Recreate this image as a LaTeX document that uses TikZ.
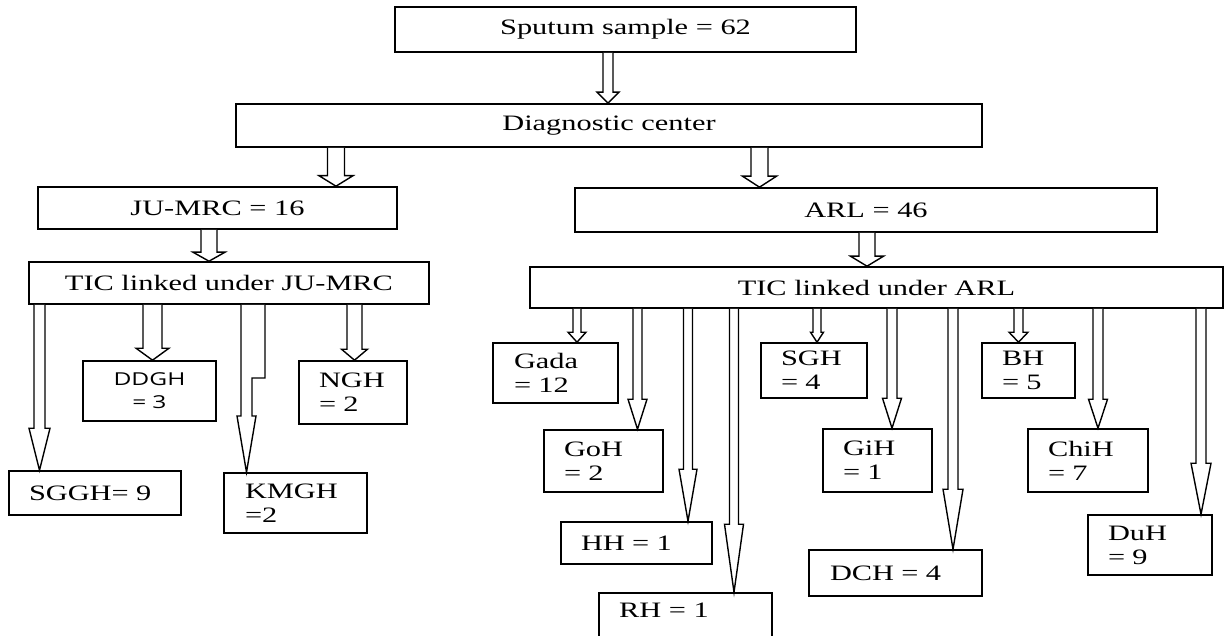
\documentclass[tikz,border=0pt]{standalone}
\usepackage{fontspec}
\setmainfont[FakeStretch=1.38]{Liberation Serif}
\newfontfamily\ddfont[FakeStretch=1.38]{Open Sans}
\usetikzlibrary{calc}
\tikzset{
  box/.style={draw, line width=1.6pt, fill=white, inner ysep=0pt, font={\fontsize{22}{24}\selectfont}},
  lbox/.style={box, align=left},
  cbox/.style={box, align=center},
  arrowline/.style={draw, line width=1.4pt, fill=white, line join=miter},
  plain/.style={inner sep=0pt, font={\fontsize{22}{24}\selectfont}}
}
% #1 x, #2 source, #3 target, #4 shaft half width, #5 head half width, #6 head length
\newcommand{\blkarrow}[6]{%
  \draw[arrowline] ($(#1,0 |- #2.south)+(-#4,0)$) -- ($(#1,0 |- #3.north)+(-#4,-#6)$)
    -- ($(#1,0 |- #3.north)+(-#5,-#6)$) -- (#1,0 |- #3.north)
    -- ($(#1,0 |- #3.north)+(#5,-#6)$) -- ($(#1,0 |- #3.north)+(#4,-#6)$)
    -- ($(#1,0 |- #2.south)+(#4,0)$);}
\begin{document}
\begin{tikzpicture}[x=1pt,y=-1pt]
\useasboundingbox[fill=white] (0,0) rectangle (1225,636);
% top levels
\node[cbox, minimum width=461pt, minimum height=45pt] (sput) at (625.5,29.5) {Sputum sample = 62};
\node[cbox, minimum width=746pt, minimum height=43pt] (diag) at (609,125.5) {Diagnostic center};
\node[cbox, minimum width=359pt, minimum height=42pt] (jumrc) at (217.5,208) {JU-MRC = 16};
\node[cbox, minimum width=582pt, minimum height=44pt] (arl) at (866,210) {ARL = 46};
\node[cbox, minimum width=400pt, minimum height=42pt] (ticju) at (229,283) {TIC linked under JU-MRC};
\node[cbox, minimum width=693pt, minimum height=41pt] (ticarl) at (876.5,287.5) {TIC linked under ARL};
% JU-MRC leaves
\node[lbox, minimum width=172pt, minimum height=44pt, inner xsep=20pt, text width=132pt] (sggh) at (95,493) {SGGH= 9};
\node[cbox, minimum width=133pt, minimum height=60pt, inner xsep=10pt, text width=113pt, font={\ddfont\fontsize{17.8}{23}\selectfont}] (ddgh) at (149.5,391) {DDGH\\= 3};
\node[lbox, minimum width=143pt, minimum height=60pt, inner xsep=21pt, text width=101pt] (kmgh) at (295.5,503) {KMGH\\=2};
\node[lbox, minimum width=108pt, minimum height=63pt, inner xsep=20pt, text width=68pt] (ngh) at (353,392.5) {NGH\\= 2};
% ARL leaves
\node[lbox, minimum width=125pt, minimum height=60pt, inner xsep=21pt, text width=83pt] (gada) at (555.5,373) {Gada\\= 12};
\node[lbox, minimum width=119pt, minimum height=62pt, inner xsep=20pt, text width=79pt] (goh) at (603.5,461) {GoH\\= 2};
\node[lbox, minimum width=151pt, minimum height=42pt, inner xsep=20pt, text width=111pt] (hh) at (636.5,543) {HH = 1};
\node[box, minimum width=173pt, minimum height=52pt] (rh) at (685.5,619) {};
\node[plain, anchor=base west] (rhtext) at (619,617) {RH = 1};
\node[lbox, minimum width=106pt, minimum height=55pt, inner xsep=20pt, text width=66pt] (sgh) at (814,370.5) {SGH\\= 4};
\node[lbox, minimum width=109pt, minimum height=63pt, inner xsep=20pt, text width=69pt] (gih) at (877.5,460.5) {GiH\\= 1};
\node[lbox, minimum width=173pt, minimum height=46pt, inner xsep=21pt, text width=131pt] (dch) at (895.5,573) {DCH = 4};
\node[lbox, minimum width=93pt, minimum height=55pt, inner xsep=20pt, text width=53pt] (bh) at (1028.5,370.5) {BH\\= 5};
\node[lbox, minimum width=120pt, minimum height=63pt, inner xsep=20pt, text width=80pt] (chih) at (1088,460.5) {ChiH\\= 7};
\node[lbox, minimum width=124pt, minimum height=60pt, inner xsep=20pt, text width=84pt] (duh) at (1150,545) {DuH\\= 9};
% arrows
\blkarrow{608}{sput}{diag}{5}{11}{11}
\blkarrow{336}{diag}{jumrc}{8.5}{17}{10.5}
\blkarrow{759.5}{diag}{arl}{8.5}{17}{11}
\blkarrow{209}{jumrc}{ticju}{8}{16}{9}
\blkarrow{867}{arl}{ticarl}{8}{16.5}{10}
\blkarrow{39.5}{ticju}{sggh}{5.5}{10.5}{42}
\blkarrow{152.5}{ticju}{ddgh}{9.5}{16.5}{12}
\blkarrow{354.5}{ticju}{ngh}{7.5}{13}{11}
\draw[arrowline] (241,0 |- ticju.south) -- (241,416) -- (237,416) -- (246.5,0 |- kmgh.north)
  -- (256,416) -- (252,416) -- (252,378) -- (265,378) -- (265,0 |- ticju.south);
\blkarrow{577}{ticarl}{gada}{4}{9}{10}
\blkarrow{637.5}{ticarl}{goh}{4.5}{9.5}{30}
\blkarrow{688}{ticarl}{hh}{4.5}{9}{52}
\blkarrow{734}{ticarl}{rh}{4.5}{9.5}{68}
\blkarrow{817}{ticarl}{sgh}{4}{6.5}{10}
\blkarrow{892}{ticarl}{gih}{5}{9.5}{30}
\blkarrow{953}{ticarl}{dch}{5}{10}{60}
\blkarrow{1018.5}{ticarl}{bh}{4.5}{9.5}{10}
\blkarrow{1098}{ticarl}{chih}{5}{9.5}{29}
\blkarrow{1201}{ticarl}{duh}{5}{10}{51}
\end{tikzpicture}
\end{document}
